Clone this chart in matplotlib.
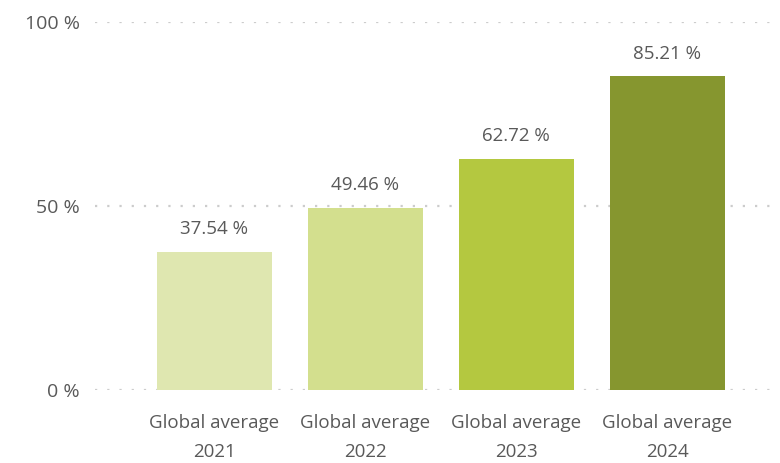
import matplotlib
matplotlib.use("Agg")
import matplotlib.pyplot as plt

categories = ["Global average\n2021", "Global average\n2022", "Global average\n2023", "Global average\n2024"]
values = [37.54, 49.46, 62.72, 85.21]
colors = ["#dfe7b0", "#d3df8e", "#b4c840", "#86962f"]
yticks = [0, 50, 100]
ytick_labels = ["0 %", "50 %", "100 %"]

plt.rcParams['font.family'] = ['Open Sans', 'DejaVu Sans']
text_color = "#595959"

fig = plt.figure(figsize=(7.8, 4.63), dpi=100)
W, H = 780, 463
left, right = 95, 770
top, bottom = 22, 390
ax = fig.add_axes([left / W, 1 - bottom / H, (right - left) / W, (bottom - top) / H])

x = list(range(len(categories)))
ax.bar(x, values, width=0.76, color=colors, zorder=3)
for xi, v in zip(x, values):
    ax.annotate(f"{v:.2f} %", (xi, v), xytext=(0, 10), textcoords="offset points",
                ha="center", va="bottom", fontsize=13.5, color=text_color)

ax.set_ylim(0, 100)
ax.set_xlim(-0.79, 3.68)
ax.set_yticks(yticks)
ax.set_yticklabels(ytick_labels, fontsize=14)
ax.set_xticks(x)
ax.set_xticklabels(categories, linespacing=1.78, fontsize=13.5)
ax.tick_params(axis="both", length=0, labelcolor=text_color)
ax.tick_params(axis="y", pad=11)
ax.tick_params(axis="x", pad=17)
for s in ax.spines.values():
    s.set_visible(False)
ax.yaxis.grid(True, color="#cccccc", linestyle=(0, (1, 4.5)), linewidth=1.6, zorder=0)
ax.set_axisbelow(True)

fig.savefig("out.png", dpi=100)
